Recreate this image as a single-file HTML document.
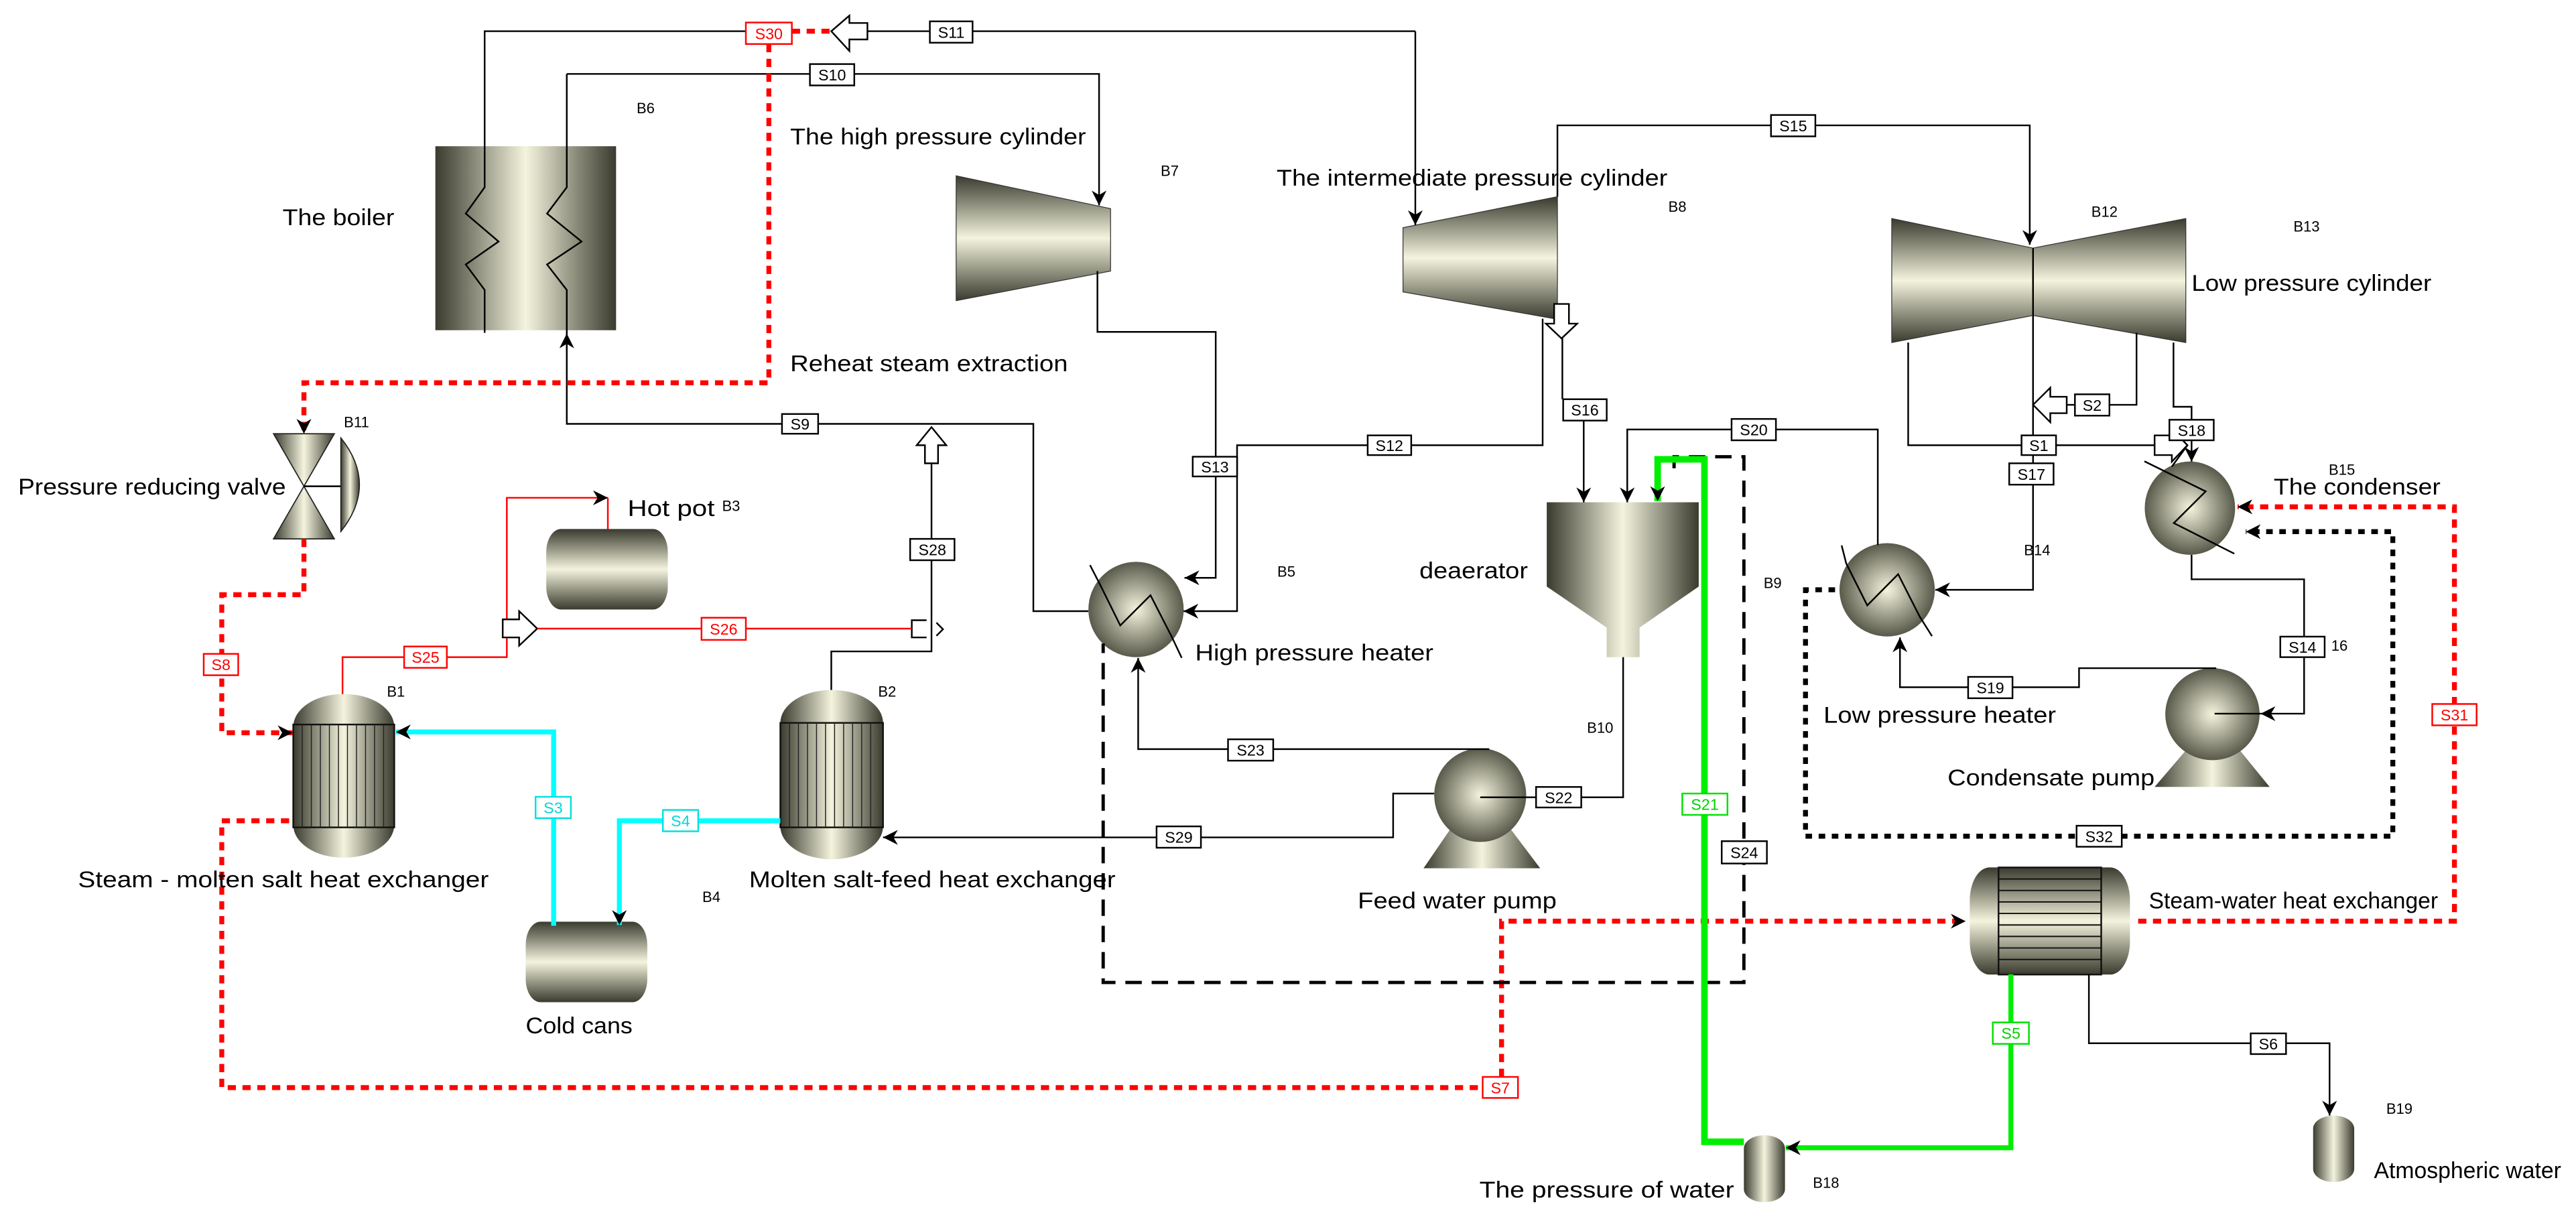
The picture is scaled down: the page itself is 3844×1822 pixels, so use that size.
<!DOCTYPE html>
<html><head><meta charset="utf-8"><style>
html,body{margin:0;padding:0;background:#fff;}
svg{display:block;}
text{font-family:"Liberation Sans",sans-serif;}
.n{font-size:14px;fill:#000;}
.b{font-size:9px;fill:#000;text-anchor:middle;}
.s{font-size:9.5px;text-anchor:middle;}
.l{fill:none;stroke:#000;stroke-width:1;}
.r{fill:none;stroke:#ff0000;stroke-width:3;stroke-dasharray:5 4;}
.rs{fill:none;stroke:#ff0000;stroke-width:1;}
.c{fill:none;stroke:#00ffff;stroke-width:3;}
.g{fill:none;stroke:#00ee00;stroke-width:4;}
.kd{fill:none;stroke:#000;stroke-width:2;stroke-dasharray:10 6;}
.ko{fill:none;stroke:#000;stroke-width:3;stroke-dasharray:4 4;}
</style></head><body>
<svg width="3844" height="1822" viewBox="0 0 1568 743.2" preserveAspectRatio="none" xmlns="http://www.w3.org/2000/svg">
<defs>
<linearGradient id="hg" x1="0" x2="1" y1="0" y2="0"><stop offset="0" stop-color="#3a3a2e"/><stop offset="0.5" stop-color="#f4f4de"/><stop offset="1" stop-color="#3a3a2e"/></linearGradient>
<linearGradient id="vg" x1="0" x2="0" y1="0" y2="1"><stop offset="0" stop-color="#3a3a2e"/><stop offset="0.5" stop-color="#f4f4de"/><stop offset="1" stop-color="#3a3a2e"/></linearGradient>
<radialGradient id="rg" cx="0.5" cy="0.5" r="0.55"><stop offset="0" stop-color="#f4f4de"/><stop offset="1" stop-color="#4a4a3c"/></radialGradient>
<marker id="a" viewBox="0 0 10 10" refX="10" refY="5" markerWidth="9" markerHeight="9" markerUnits="userSpaceOnUse" orient="auto"><path d="M0,0 L10,5 L0,10 L3,5z" fill="#000"/></marker>
</defs>

<!-- Equipment -->
<rect x="265" y="89" width="110" height="112" fill="url(#hg)"/>
<polygon points="582,107 676,127 676,165 582,183" fill="url(#vg)" stroke="#333" stroke-width="0.5"/>
<polygon points="854,138.6 948,119.7 948,194.3 854,177.7" fill="url(#vg)" stroke="#333" stroke-width="0.5"/>
<polygon points="1151.5,133 1237.5,151 1237.5,192 1151.5,208.5" fill="url(#vg)" stroke="#333" stroke-width="0.5"/>
<polygon points="1237.5,151 1330.5,133 1330.5,208.5 1237.5,192" fill="url(#vg)" stroke="#333" stroke-width="0.5"/>
<line x1="1237.5" y1="151" x2="1237.5" y2="192" stroke="#000"/>
<!-- valve -->
<polygon points="166.5,264 203.5,264 185,296" fill="url(#hg)" stroke="#222" stroke-width="0.7"/>
<polygon points="185,296 166.5,328 203.5,328" fill="url(#hg)" stroke="#222" stroke-width="0.7"/>
<line x1="185" y1="296" x2="208" y2="296" stroke="#000"/>
<path d="M207.5,266.6 Q230,295 207.5,323.5 Z" fill="url(#hg)" stroke="#222" stroke-width="0.7"/>
<!-- hot pot / cold cans -->
<rect x="332.5" y="322" width="74" height="49" rx="9" ry="14" fill="url(#vg)"/>
<rect x="320" y="561" width="74" height="49" rx="9" ry="14" fill="url(#vg)"/>
<!-- B1 -->
<rect x="178.5" y="422.5" width="61.5" height="99.5" rx="30" ry="20" fill="url(#hg)"/>
<rect x="178.5" y="441" width="61.5" height="62.6" fill="url(#hg)" stroke="#111" stroke-width="1"/>
<path d="M184,441V503.6M189.5,441V503.6M195,441V503.6M200.5,441V503.6M206,441V503.6M211.5,441V503.6M217,441V503.6M222.5,441V503.6M228,441V503.6M233.5,441V503.6" stroke="#222" stroke-width="0.6"/>
<!-- B2 -->
<rect x="475" y="420" width="62.5" height="103" rx="31" ry="20" fill="url(#hg)"/>
<rect x="475" y="440" width="62.5" height="63.6" fill="url(#hg)" stroke="#111" stroke-width="1"/>
<path d="M480.5,440V503.6M486,440V503.6M491.5,440V503.6M497,440V503.6M502.5,440V503.6M508,440V503.6M513.5,440V503.6M519,440V503.6M524.5,440V503.6M530,440V503.6" stroke="#222" stroke-width="0.6"/>
<!-- deaerator -->
<path d="M941.5,305.7H1034V357L998,382V400H978V382L941.5,357Z" fill="url(#hg)"/>
<!-- heaters -->
<circle cx="691.5" cy="371" r="29" fill="url(#rg)"/>
<polyline class="l" points="663.5,344 669.7,356 681.9,380.7 700.3,362.3 713.2,387.5 719.3,400.4"/>
<ellipse cx="1148.7" cy="359" rx="29" ry="28.4" fill="url(#rg)"/>
<polyline class="l" points="1121,332 1123.8,343 1136.6,368.5 1155.4,349.5 1168.5,375.3 1176,387.2"/>
<ellipse cx="1333" cy="309.3" rx="27.5" ry="28.4" fill="url(#rg)"/>
<polyline class="l" points="1305.3,280.8 1342.6,299.1 1323.2,318.4 1360,337"/>
<!-- pumps -->
<polygon points="886,500 916,500 937.5,528.5 866.5,528.5" fill="url(#hg)"/>
<ellipse cx="901" cy="484" rx="28" ry="28.5" fill="url(#rg)"/>
<polygon points="1332,455 1362,455 1381.5,479 1311.5,479" fill="url(#hg)"/>
<ellipse cx="1346.7" cy="434.7" rx="28.7" ry="28" fill="url(#rg)"/>
<!-- steam-water HX -->
<rect x="1199" y="528" width="97.5" height="65.2" rx="12" ry="20" fill="url(#vg)"/>
<rect x="1216.5" y="528" width="62.5" height="65.2" fill="url(#vg)" stroke="#111"/>
<path d="M1216.5,535H1279M1216.5,542H1279M1216.5,549H1279M1216.5,556H1279M1216.5,563H1279M1216.5,570H1279M1216.5,577H1279M1216.5,584H1279" stroke="#111" stroke-width="0.8"/>
<!-- vessels -->
<rect x="1061.5" y="691" width="25" height="40.8" rx="12.5" ry="8" fill="url(#hg)"/>
<rect x="1408" y="679" width="25" height="40.5" rx="12.5" ry="8" fill="url(#hg)"/>

<!-- Black lines -->
<polyline class="l" points="295,202.6 295,176.5 283.5,161 303.5,147 283.5,130 295,114 295,19 454,19"/>
<polyline class="l" points="528,19 861.5,19" />
<polyline class="l" points="861.5,19 861.5,137" marker-end="url(#a)"/>
<polygon points="506,19 517,9.5 517,14 528,14 528,24 517,24 517,31" fill="#fff" stroke="#000"/>
<polyline class="l" points="345,45 669,45 669,125" marker-end="url(#a)"/>
<polyline class="l" points="345,45 345,114 333,130 354,147 333,161 345,176.5 345,258 629,258 629,372 662.5,372"/>
<polyline class="l" points="345,215 345,203" marker-end="url(#a)"/>
<polyline class="l" points="668,165 668,202 740,202 740,351.7 721,351.7" marker-end="url(#a)"/>
<polyline class="l" points="939,194 939,271 753,271 753,372 720.4,372" marker-end="url(#a)"/>
<polyline class="l" points="951,206 951,243"/>
<polyline class="l" points="964,256 964,305.7" marker-end="url(#a)"/>
<polygon points="946,185 955,185 955,197 960,197 950.5,206 941,197 946,197" fill="#fff" stroke="#000"/>
<polyline class="l" points="948,119.7 948,76.3 1235.5,76.3 1235.5,149" marker-end="url(#a)"/>
<polyline class="l" points="1143,331.8 1143,261.4 990.5,261.4 990.5,305.7" marker-end="url(#a)"/>
<polyline class="l" points="1161.5,208.5 1161.5,271 1311.5,271"/>
<polygon points="1311.5,265 1322,265 1322,261 1331.5,271 1322,281 1322,277 1311.5,277" fill="#fff" stroke="#000"/>
<line x1="1331.5" y1="271" x2="1322" y2="284" stroke="#000"/>
<polyline class="l" points="1237.5,192 1237.5,359 1178,359" marker-end="url(#a)"/>
<polyline class="l" points="1300.5,202.6 1300.5,246.4 1258,246.4"/>
<polygon points="1237.5,246.4 1248,236 1248,241.5 1258,241.5 1258,251.5 1248,251.5 1248,257" fill="#fff" stroke="#000"/>
<polyline class="l" points="1323,208.5 1323,247.6 1334,247.6 1334,281" marker-end="url(#a)"/>
<polyline class="l" points="1334,337.7 1334,352.6 1402.5,352.6 1402.5,434.4 1376,434.4" marker-end="url(#a)"/>
<line x1="1376" y1="434.4" x2="1348" y2="434.4" stroke="#000"/>
<polyline class="l" points="1349,406.7 1265.5,406.7 1265.5,418.3 1156.5,418.3 1156.5,388" marker-end="url(#a)"/>
<polyline class="l" points="988,400 988,485.3 901,485.3"/>
<polyline class="l" points="906.5,456 692.8,456 692.8,400.5" marker-end="url(#a)"/>
<polyline class="l" points="873,483 848,483 848,509.7 558,509.7 537.5,509.7" marker-end="url(#a)"/>
<polyline class="l" points="567,282 567,396.5 506,396.5 506,420"/>
<polygon points="567,260 576,271 571,271 571,282 563,282 563,271 558,271" fill="#fff" stroke="#000"/>
<path d="M564,377.5H555V388H564" class="l"/>
<polyline class="l" points="570,379 574,383 570,387"/>
<polyline class="l" points="1271.5,593 1271.5,635 1418,635 1418,679" marker-end="url(#a)"/>

<!-- Red -->
<polyline class="r" points="482,19 505,19"/>
<polyline class="r" points="468,26.8 468,233 185,233 185,264" marker-end="url(#a)"/>
<polyline class="r" points="185,328 185,362 135,362 135,446 178,446" marker-end="url(#a)"/>
<polyline class="rs" points="208.5,422.5 208.5,400 308.5,400 308.5,303 370,303" marker-end="url(#a)"/>
<line x1="370" y1="303" x2="370" y2="322" stroke="#ff0000"/>
<polygon points="306,377 316,377 316,372 327,382.6 316,393 316,388 306,388" fill="#fff" stroke="#000"/>
<polyline class="rs" points="327,382.6 555,382.6"/>
<polyline class="r" points="176,499.6 135,499.6 135,662 902.5,662"/>
<polyline class="r" points="914,655.5 914,560.7 1196.5,560.7" marker-end="url(#a)"/>
<polyline class="r" points="1301.5,560.7 1494,560.7 1494,308.5 1362,308.5" marker-end="url(#a)"/>

<!-- Cyan -->
<polyline class="c" points="337,563.5 337,445.5 241,445.5" marker-end="url(#a)"/>
<polyline class="c" points="475,499.6 377,499.6 377,563" marker-end="url(#a)"/>

<!-- Black dashed / dotted loops -->
<polyline class="kd" points="1019,285 1019,278 1061.5,278 1061.5,598 671.5,598 671.5,391.7"/>
<polyline class="ko" points="1117,359 1099,359 1099,509 1456.5,509 1456.5,323.6 1367,323.6" marker-end="url(#a)"/>

<!-- Green -->
<polyline class="g" points="1061.5,695 1037.5,695 1037.5,279.6 1009,279.6 1009,305" marker-end="url(#a)"/>
<polyline class="g" style="stroke-width:3" points="1224,593 1224,698.6 1087,698.6" marker-end="url(#a)"/>

<!-- Stream boxes -->
<g stroke-width="1">
<rect x="454" y="13.7" width="28" height="13.1" fill="#fff" stroke="#f00"/><text class="s" x="468" y="23.8" fill="#f00">S30</text>
<rect x="566" y="13" width="26" height="13" fill="#fff" stroke="#000"/><text class="s" x="579" y="23">S11</text>
<rect x="493" y="39" width="27" height="13" fill="#fff" stroke="#000"/><text class="s" x="506.5" y="49">S10</text>
<rect x="476" y="252" width="22" height="12" fill="#fff" stroke="#000"/><text class="s" x="487" y="261.5">S9</text>
<rect x="726" y="278" width="27" height="12" fill="#fff" stroke="#000"/><text class="s" x="739.5" y="287.5">S13</text>
<rect x="832.5" y="265" width="26.5" height="12" fill="#fff" stroke="#000"/><text class="s" x="845.7" y="274.5">S12</text>
<rect x="554" y="328" width="27" height="13" fill="#fff" stroke="#000"/><text class="s" x="567.5" y="338">S28</text>
<rect x="951.5" y="243" width="26.5" height="13" fill="#fff" stroke="#000"/><text class="s" x="964.7" y="253">S16</text>
<rect x="1078" y="70" width="27" height="13" fill="#fff" stroke="#000"/><text class="s" x="1091.5" y="80">S15</text>
<rect x="1054" y="255" width="27" height="13" fill="#fff" stroke="#000"/><text class="s" x="1067.5" y="265">S20</text>
<rect x="1230.5" y="265" width="21" height="12" fill="#fff" stroke="#000"/><text class="s" x="1241" y="274.5">S1</text>
<rect x="1223" y="282" width="27" height="13" fill="#fff" stroke="#000"/><text class="s" x="1236.5" y="292">S17</text>
<rect x="1263" y="240" width="21" height="13" fill="#fff" stroke="#000"/><text class="s" x="1273.5" y="250">S2</text>
<rect x="1320.5" y="255.5" width="27" height="12.5" fill="#fff" stroke="#000"/><text class="s" x="1334" y="265.3">S18</text>
<rect x="124" y="398" width="21" height="13" fill="#fff" stroke="#f00"/><text class="s" x="134.5" y="408" fill="#f00">S8</text>
<rect x="246" y="393.5" width="26" height="13" fill="#fff" stroke="#f00"/><text class="s" x="259" y="403.5" fill="#f00">S25</text>
<rect x="427" y="376" width="27" height="13.5" fill="#fff" stroke="#f00"/><text class="s" x="440.5" y="386.3" fill="#f00">S26</text>
<rect x="326" y="485" width="21.5" height="13" fill="#fff" stroke="#00e0e0"/><text class="s" x="336.7" y="495" fill="#00d8d8">S3</text>
<rect x="403.5" y="493" width="21.5" height="13" fill="#fff" stroke="#00e0e0"/><text class="s" x="414.2" y="503" fill="#00d8d8">S4</text>
<rect x="747.5" y="450" width="27.5" height="13" fill="#fff" stroke="#000"/><text class="s" x="761.2" y="460">S23</text>
<rect x="704" y="503" width="27" height="13" fill="#fff" stroke="#000"/><text class="s" x="717.5" y="513">S29</text>
<rect x="935" y="479" width="27.5" height="12.5" fill="#fff" stroke="#000"/><text class="s" x="948.7" y="488.8">S22</text>
<rect x="1024" y="483" width="27.5" height="13" fill="#fff" stroke="#00e000"/><text class="s" x="1037.7" y="493" fill="#00d000">S21</text>
<rect x="1048" y="512" width="27.5" height="13.6" fill="#fff" stroke="#000"/><text class="s" x="1061.7" y="522.3">S24</text>
<rect x="1264" y="502.6" width="27.5" height="12.8" fill="#fff" stroke="#000"/><text class="s" x="1277.7" y="512.5">S32</text>
<rect x="1480.5" y="428.5" width="27" height="13" fill="#fff" stroke="#f00"/><text class="s" x="1494" y="438.5" fill="#f00">S31</text>
<rect x="1388" y="387.5" width="27" height="12.5" fill="#fff" stroke="#000"/><text class="s" x="1401.5" y="397.3">S14</text>
<rect x="1198" y="412" width="27" height="13" fill="#fff" stroke="#000"/><text class="s" x="1211.5" y="422">S19</text>
<rect x="1213" y="622.3" width="22" height="13.1" fill="#fff" stroke="#00e000"/><text class="s" x="1224" y="632.3" fill="#00d000">S5</text>
<rect x="1370" y="629" width="21.5" height="12.6" fill="#fff" stroke="#000"/><text class="s" x="1380.7" y="638.8">S6</text>
<rect x="902.5" y="655.5" width="21.5" height="12.8" fill="#fff" stroke="#f00"/><text class="s" x="913.2" y="665.5" fill="#f00">S7</text>
</g>

<!-- Block labels -->
<text class="b" x="393" y="69">B6</text>
<text class="b" x="712" y="107">B7</text>
<text class="b" x="1021" y="129">B8</text>
<text class="b" x="1281" y="132">B12</text>
<text class="b" x="1404" y="141">B13</text>
<text class="b" x="217" y="260">B11</text>
<text class="b" x="445" y="311">B3</text>
<text class="b" x="783" y="351">B5</text>
<text class="b" x="1079" y="358">B9</text>
<text class="b" x="1425.5" y="289">B15</text>
<text class="b" x="241" y="424">B1</text>
<text class="b" x="540" y="424">B2</text>
<text class="b" x="433" y="549">B4</text>
<text class="b" x="974" y="446">B10</text>
<text class="b" x="1424" y="396">16</text>
<text class="b" x="1240" y="338">B14</text>
<text class="b" x="1111.5" y="723">B18</text>
<text class="b" x="1460.5" y="678">B19</text>

<!-- Names -->
<text class="n" x="172" y="137" textLength="68" lengthAdjust="spacingAndGlyphs">The boiler</text>
<text class="n" x="481" y="88" textLength="180" lengthAdjust="spacingAndGlyphs">The high pressure cylinder</text>
<text class="n" x="481" y="226" textLength="169" lengthAdjust="spacingAndGlyphs">Reheat steam extraction</text>
<text class="n" x="777" y="113" textLength="238" lengthAdjust="spacingAndGlyphs">The intermediate pressure cylinder</text>
<text class="n" x="1334" y="177" textLength="146" lengthAdjust="spacingAndGlyphs">Low pressure cylinder</text>
<text class="n" x="11" y="301" textLength="163" lengthAdjust="spacingAndGlyphs">Pressure reducing valve</text>
<text class="n" x="382" y="314" textLength="53" lengthAdjust="spacingAndGlyphs">Hot pot</text>
<text class="n" x="47.5" y="540" textLength="250" lengthAdjust="spacingAndGlyphs">Steam - molten salt heat exchanger</text>
<text class="n" x="456" y="540" textLength="223" lengthAdjust="spacingAndGlyphs">Molten salt-feed heat exchanger</text>
<text class="n" x="320" y="629" textLength="65" lengthAdjust="spacingAndGlyphs">Cold cans</text>
<text class="n" x="727.5" y="402" textLength="145" lengthAdjust="spacingAndGlyphs">High pressure heater</text>
<text class="n" x="864" y="352" textLength="66" lengthAdjust="spacingAndGlyphs">deaerator</text>
<text class="n" x="826.5" y="553" textLength="121" lengthAdjust="spacingAndGlyphs">Feed water pump</text>
<text class="n" x="1110" y="440" textLength="141.5" lengthAdjust="spacingAndGlyphs">Low pressure heater</text>
<text class="n" x="1185.5" y="478" textLength="126" lengthAdjust="spacingAndGlyphs">Condensate pump</text>
<text class="n" x="1308" y="553" textLength="176" lengthAdjust="spacingAndGlyphs">Steam-water heat exchanger</text>
<text class="n" x="1384" y="301" textLength="101.5" lengthAdjust="spacingAndGlyphs">The condenser</text>
<text class="n" x="900.5" y="729" textLength="155" lengthAdjust="spacingAndGlyphs">The pressure of water</text>
<text class="n" x="1445" y="717" textLength="114" lengthAdjust="spacingAndGlyphs">Atmospheric water</text>
</svg>
</body></html>
